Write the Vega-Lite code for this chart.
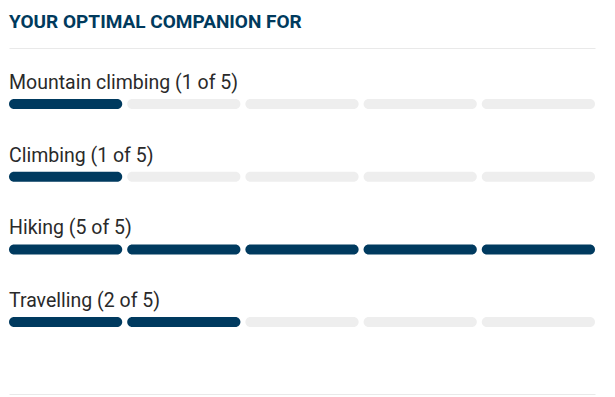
{
  "$schema": "https://vega.github.io/schema/vega-lite/v6.json",
  "width": 615,
  "height": 397,
  "autosize": {"type": "fit", "contains": "padding"},
  "padding": {"left": 9, "right": 20, "top": 13, "bottom": 3},
  "background": "white",
  "config": {"view": {"stroke": null}, "font": "Roboto"},
  "title": {
    "text": "YOUR OPTIMAL COMPANION FOR",
    "anchor": "start",
    "font": "Roboto",
    "fontSize": 19,
    "fontWeight": "bold",
    "color": "#003a5d",
    "offset": 16
  },
  "data": {
    "values": [
      {"activity": "Mountain climbing", "label": "Mountain climbing (1 of 5)", "seg": 1, "status": "on"},
      {"activity": "Mountain climbing", "label": "Mountain climbing (1 of 5)", "seg": 2, "status": "off"},
      {"activity": "Mountain climbing", "label": "Mountain climbing (1 of 5)", "seg": 3, "status": "off"},
      {"activity": "Mountain climbing", "label": "Mountain climbing (1 of 5)", "seg": 4, "status": "off"},
      {"activity": "Mountain climbing", "label": "Mountain climbing (1 of 5)", "seg": 5, "status": "off"},
      {"activity": "Climbing", "label": "Climbing (1 of 5)", "seg": 1, "status": "on"},
      {"activity": "Climbing", "label": "Climbing (1 of 5)", "seg": 2, "status": "off"},
      {"activity": "Climbing", "label": "Climbing (1 of 5)", "seg": 3, "status": "off"},
      {"activity": "Climbing", "label": "Climbing (1 of 5)", "seg": 4, "status": "off"},
      {"activity": "Climbing", "label": "Climbing (1 of 5)", "seg": 5, "status": "off"},
      {"activity": "Hiking", "label": "Hiking (5 of 5)", "seg": 1, "status": "on"},
      {"activity": "Hiking", "label": "Hiking (5 of 5)", "seg": 2, "status": "on"},
      {"activity": "Hiking", "label": "Hiking (5 of 5)", "seg": 3, "status": "on"},
      {"activity": "Hiking", "label": "Hiking (5 of 5)", "seg": 4, "status": "on"},
      {"activity": "Hiking", "label": "Hiking (5 of 5)", "seg": 5, "status": "on"},
      {"activity": "Travelling", "label": "Travelling (2 of 5)", "seg": 1, "status": "on"},
      {"activity": "Travelling", "label": "Travelling (2 of 5)", "seg": 2, "status": "on"},
      {"activity": "Travelling", "label": "Travelling (2 of 5)", "seg": 3, "status": "off"},
      {"activity": "Travelling", "label": "Travelling (2 of 5)", "seg": 4, "status": "off"},
      {"activity": "Travelling", "label": "Travelling (2 of 5)", "seg": 5, "status": "off"}
    ]
  },
  "encoding": {
    "y": {
      "field": "activity",
      "type": "nominal",
      "scale": {"domain": ["Mountain climbing", "Climbing", "Hiking", "Travelling"], "paddingInner": 0, "paddingOuter": 0.38, "align": 0.356},
      "axis": null
    }
  },
  "layer": [
    {
      "mark": {"type": "bar", "height": 10, "cornerRadius": 5},
      "encoding": {
        "x": {
          "field": "seg",
          "type": "ordinal",
          "scale": {"paddingInner": 0.042, "paddingOuter": 0},
          "axis": {"orient": "top", "title": null, "labels": false, "ticks": false, "grid": false, "domainColor": "#e9e9e9", "domainWidth": 1}
        },
        "color": {
          "field": "status",
          "type": "nominal",
          "scale": {"domain": ["on", "off"], "range": ["#003a5f", "#eeeeee"]},
          "legend": null
        }
      }
    },
    {
      "transform": [{"filter": "datum.seg == 1"}],
      "mark": {"type": "text", "align": "left", "baseline": "alphabetic", "yOffset": -15, "fontSize": 19.5, "font": "Roboto", "color": "#2a2a2a"},
      "encoding": {
        "x": {
          "field": "seg",
          "type": "ordinal",
          "bandPosition": 0,
          "axis": {"orient": "bottom", "title": null, "labels": false, "ticks": false, "grid": false, "domainColor": "#e9e9e9", "domainWidth": 1}
        },
        "text": {"field": "label"}
      }
    }
  ],
  "resolve": {"axis": {"x": "independent"}}
}
